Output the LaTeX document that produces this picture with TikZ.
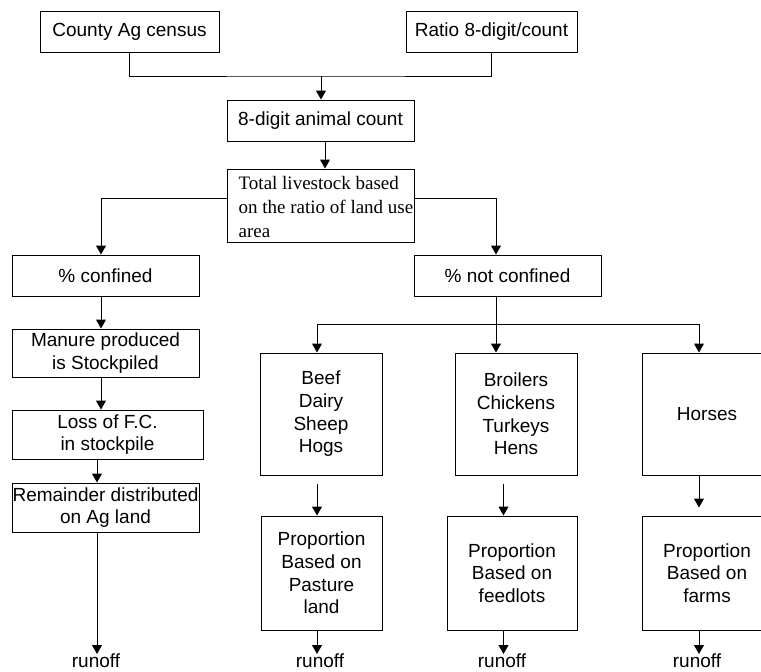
\documentclass[tikz,border=0pt]{standalone}
\usepackage{fontspec}
\setmainfont{Liberation Sans}
\newfontfamily\serifbox{Liberation Serif}
\usetikzlibrary{arrows.meta}

\begin{document}
\begin{tikzpicture}[x=1pt, y=-1pt,
    box/.style={draw, shape=rectangle, line width=1pt, inner sep=0pt,
      align=center, font=\fontsize{19}{22.7}\selectfont},
    conn/.style={line width=1pt},
    arr/.style={conn, -{Triangle[width=10pt,length=9pt]}},
    outlbl/.style={inner sep=0pt, anchor=north, font=\fontsize{19}{22.7}\selectfont}]
  \useasboundingbox (0,0) rectangle (761,672);

  % sources
  \node (county) [box, minimum width=179pt, minimum height=41pt] at (129.5,31.5) {County Ag census};
  \node (ratio) [box, minimum width=171pt, minimum height=41pt] at (491.5,31.5) {Ratio 8-digit/count};
  \node (count) [box, minimum width=187pt, minimum height=41pt] at (320.5,120.5) {8-digit animal count};
  \node (total) [box, minimum width=187pt, minimum height=73pt,
    font=\serifbox\fontsize{19}{24}\selectfont] at (320.5,205.5)
    {\raisebox{-3.5pt}[\height][\depth]{\begin{tabular}{@{\hspace{11pt}}l@{}}Total livestock based\\on the ratio of land use\\area\end{tabular}}};

  % confined
  \node (conf) [box, minimum width=187pt, minimum height=41pt] at (105.5,275.5) {\% confined};
  \node (manure) [box, minimum width=187pt, minimum height=48pt] at (105.5,353) {Manure produced\\is Stockpiled};
  \node (loss) [box, minimum width=191pt, minimum height=49pt] at (107.5,434.5) {Loss of F.C.\\in stockpile};
  \node (remain) [box, minimum width=187pt, minimum height=49pt] at (105.5,507.5) {Remainder distributed\\on Ag land};

  % not confined
  \node (notconf) [box, minimum width=187pt, minimum height=41pt] at (507.5,275.5) {\% not confined};
  \node (beef) [box, minimum width=122pt, minimum height=122pt] at (321,414) {Beef\\Dairy\\Sheep\\Hogs};
  \node (broil) [box, minimum width=122pt, minimum height=122pt] at (516,414) {Broilers\\Chickens\\Turkeys\\Hens};
  \node (horse) [box, minimum width=130pt, minimum height=122pt] at (707,414) {Horses};
  \node (pasture) [box, minimum width=121pt, minimum height=114pt] at (321.5,573) {Proportion\\Based on\\Pasture\\land};
  \node (feed) [box, minimum width=130pt, minimum height=114pt] at (512,573) {Proportion\\Based on\\feedlots};
  \node (farm) [box, minimum width=130pt, minimum height=114pt] at (707,573) {Proportion\\Based on\\farms};

  % runoff
  \node (run1) [outlbl] at (96,654) {runoff};
  \node (run2) [outlbl] at (320,654) {runoff};
  \node (run3) [outlbl] at (502,654) {runoff};
  \node (run4) [outlbl] at (697,654) {runoff};

  \coordinate (merge) at (321,76);
  \coordinate (splitL) at (101,198);
  \coordinate (splitR) at (496,198);
  \coordinate (bus) at (496,324);
  \coordinate (colA) at (101,0);
  \coordinate (colB) at (97,0);
  \coordinate (colP) at (317,0);
  \coordinate (colF) at (503.5,0);
  \coordinate (colH) at (699,0);

  \draw[conn] (county.south) |- (merge) -| (ratio.south);
  \draw[arr] (merge) -- (count.north -| merge);
  \draw[arr] ([xshift=4.5pt]count.south) -- ([xshift=4.5pt]total.north);
  \draw[arr] (total.west |- splitL) -| (conf.north -| splitL);
  \draw[arr] (total.east |- splitR) -| (notconf.north -| splitR);

  \draw[arr] (conf.south -| colA) -- (manure.north -| colA);
  \draw[arr] (manure.south -| colA) -- (loss.north -| colA);
  \draw[arr] (loss.south -| colB) -- (remain.north -| colB);
  \draw[arr] (remain.south -| colB) -- (run1.north -| colB);

  \draw[conn] (notconf.south -| bus) -- (bus);
  \draw[arr] (bus) -| (beef.north -| colP);
  \draw[arr] (bus) -- (broil.north -| bus);
  \draw[arr] (bus) -| (horse.north -| colH);
  \draw[arr] (beef.south -| colP) ++(0,8) -- (pasture.north -| colP);
  \draw[arr] (broil.south -| colF) ++(0,8) -- (feed.north -| colF);
  \draw[arr, shorten >=8pt] (horse.south -| colH) -- (farm.north -| colH);

  \draw[arr] (pasture.south -| colP) -- (run2.north -| colP);
  \draw[arr] (feed.south -| colF) -- (run3.north -| colF);
  \draw[arr] (farm.south -| colH) -- (run4.north -| colH);
\end{tikzpicture}
\end{document}
